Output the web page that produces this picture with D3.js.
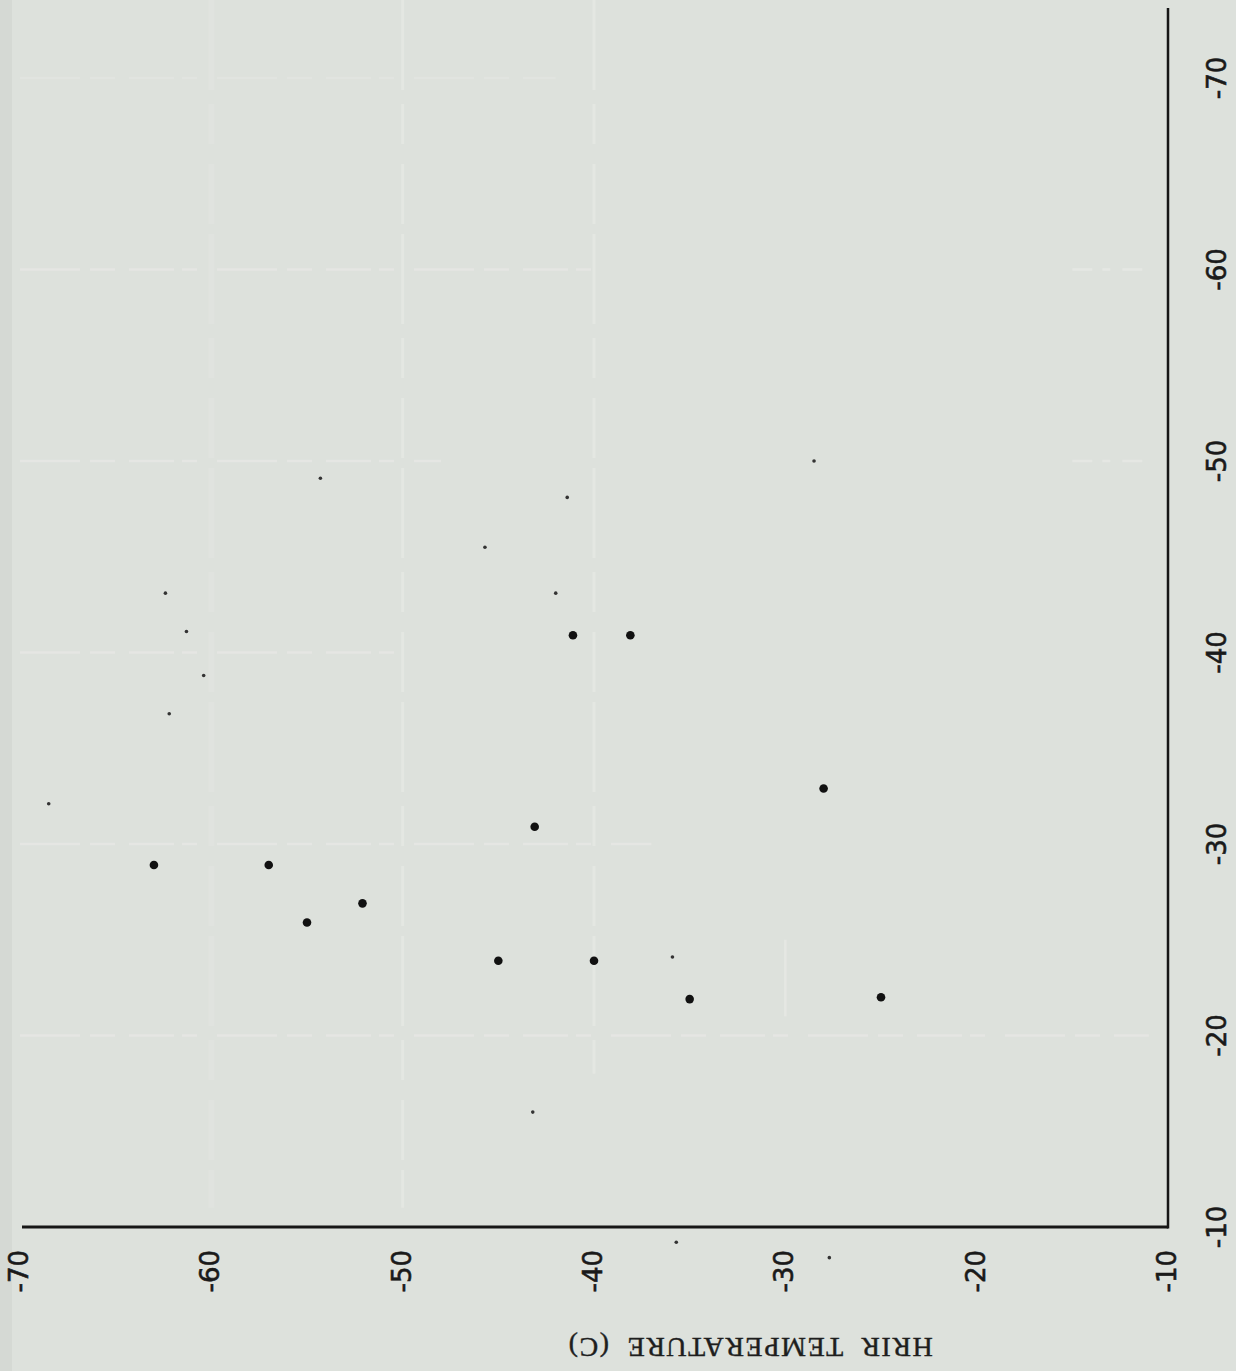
<!DOCTYPE html>
<html>
<head>
<meta charset="utf-8">
<script src="https://d3js.org/d3.v7.min.js"></script>
<style>
    html, body { margin: 0; padding: 0; background: #dde1dc; }
    svg { display: block; }
</style>
</head>
<body>
<div id="chart"></div>
<script>
// values (horizontal axis value, vertical axis value)
const bigX = [-63.0, -57.0, -55.0, -52.1, -45.0, -40.0, -43.1, -41.1, -38.1, -35.0, -28.0, -25.0]
const bigY = [-28.9, -28.9, -25.9, -26.9, -23.9, -23.9, -30.9, -40.9, -40.9, -21.9, -32.9, -22.0]

const smallX = [-68.5, -62.4, -61.3, -62.2, -60.4, -54.3, -45.7, -41.4, -42.0, -28.5, -35.9, -43.2, -35.7, -27.7]
const smallY = [-32.1, -43.1, -41.1, -36.8, -38.8, -49.1, -45.5, -48.1, -43.1, -50.0, -24.1, -16.0, -9.2, -8.4]

const tickValues = [-70, -60, -50, -40, -30, -20, -10]
const gridValues = [-70, -60, -50, -40, -30, -20]
// how far each faded grid line still shows on the scan
const gridEnds = [-42, -40, -48, -50, -37, -11]
const axisTitle = 'HRIR  TEMPERATURE  (C)'

const width = 1236
const height = 1371

const svg = d3.select('#chart')
    .append('svg')
    .attr('width', width)
    .attr('height', height)

svg.append('rect')
    .attr('width', width)
    .attr('height', height)
    .attr('fill', '#dde1dc')

// slightly darker strip at the left edge of the scan
svg.append('rect')
    .attr('x', 0).attr('y', 0)
    .attr('width', 12).attr('height', height)
    .attr('fill', '#d5d9d4')

const xScale = d3.scaleLinear()
    .domain([-70, -10])
    .range([20, 1168])

const yScale = d3.scaleLinear()
    .domain([-70, -10])
    .range([78, 1227])

// faded grid from the original graph paper
const grid = svg.append('g')
    .attr('fill', 'none')
    .attr('stroke', '#e5e7e3')
    .attr('stroke-width', 2.5)

grid.selectAll('.hgrid')
    .data(gridValues)
    .enter()
    .append('line')
    .attr('class', 'hgrid')
    .attr('x1', xScale(-70))
    .attr('x2', (d, i) => xScale(gridEnds[i]))
    .attr('y1', (d) => yScale(d))
    .attr('y2', (d) => yScale(d))
    .attr('stroke-opacity', (d) => d == -70 ? 0.5 : 0.9)
    .attr('stroke-dasharray', '60,10,25,14,45,8,15,20')

grid.selectAll('.hstub')
    .data([-60, -50])
    .enter()
    .append('line')
    .attr('class', 'hstub')
    .attr('x1', xScale(-15))
    .attr('x2', xScale(-11))
    .attr('y1', (d) => yScale(d))
    .attr('y2', (d) => yScale(d))
    .attr('stroke-dasharray', '20,10,8,12')

grid.selectAll('.vgrid')
    .data([-60, -50, -40])
    .enter()
    .append('line')
    .attr('class', 'vgrid')
    .attr('x1', (d) => xScale(d))
    .attr('x2', (d) => xScale(d))
    .attr('y1', 0)
    .attr('y2', (d) => d == -40 ? yScale(-18) : yScale(-11))
    .attr('stroke-width', (d) => d == -60 ? 6 : 3)
    .attr('stroke-opacity', (d) => d == -60 ? 0.45 : 0.85)
    .attr('stroke-dasharray', '90,14,40,20,60,10')

grid.append('line')
    .attr('x1', xScale(-30))
    .attr('x2', xScale(-30))
    .attr('y1', yScale(-25))
    .attr('y2', yScale(-21))

// axis lines
svg.append('line')
    .attr('x1', xScale(-70) + 2)
    .attr('x2', xScale(-10))
    .attr('y1', yScale(-10))
    .attr('y2', yScale(-10))
    .attr('stroke', '#161616')
    .attr('stroke-width', 3)

svg.append('line')
    .attr('x1', xScale(-10))
    .attr('x2', xScale(-10))
    .attr('y1', 8)
    .attr('y2', yScale(-10) + 1.5)
    .attr('stroke', '#161616')
    .attr('stroke-width', 2.5)

// tick labels, rotated like the scanned page
svg.selectAll('.xlabel')
    .data(tickValues)
    .enter()
    .append('text')
    .attr('class', 'xlabel')
    .attr('transform', (d) => 'translate(' + (xScale(d) - 1) + ',' + 1250 + ') rotate(-90)')
    .attr('text-anchor', 'end')
    .attr('dominant-baseline', 'central')
    .attr('font-family', 'DejaVu Sans, sans-serif')
    .attr('font-size', 26)
    .attr('fill', '#1a1a1a')
    .attr('stroke', '#1a1a1a')
    .attr('stroke-width', 0.6)
    .text((d) => d)

svg.selectAll('.ylabel')
    .data(tickValues)
    .enter()
    .append('text')
    .attr('class', 'ylabel')
    .attr('transform', (d) => 'translate(' + 1217 + ',' + yScale(d) + ') rotate(-90)')
    .attr('text-anchor', 'middle')
    .attr('dominant-baseline', 'central')
    .attr('font-family', 'DejaVu Sans, sans-serif')
    .attr('font-size', 26)
    .attr('fill', '#1a1a1a')
    .attr('stroke', '#1a1a1a')
    .attr('stroke-width', 0.6)
    .text((d) => d)

svg.append('text')
    .attr('transform', 'translate(750,1338) rotate(180)')
    .attr('text-anchor', 'middle')
    .attr('font-family', 'Liberation Serif, serif')
    .attr('font-size', 28)
    .attr('letter-spacing', 1.5)
    .attr('fill', '#1e1e1e')
    .attr('stroke', '#1e1e1e')
    .attr('stroke-width', 0.4)
    .style('white-space', 'pre')
    .text(axisTitle)

// points
svg.selectAll('.small')
    .data(d3.range(smallX.length))
    .enter()
    .append('circle')
    .attr('class', 'small')
    .attr('cx', (i) => xScale(smallX[i]))
    .attr('cy', (i) => yScale(smallY[i]))
    .attr('r', 1.8)
    .attr('fill', '#333')

svg.selectAll('.big')
    .data(d3.range(bigX.length))
    .enter()
    .append('circle')
    .attr('class', 'big')
    .attr('cx', (i) => xScale(bigX[i]))
    .attr('cy', (i) => yScale(bigY[i]))
    .attr('r', 4.3)
    .attr('fill', '#111')
</script>
</body>
</html>
